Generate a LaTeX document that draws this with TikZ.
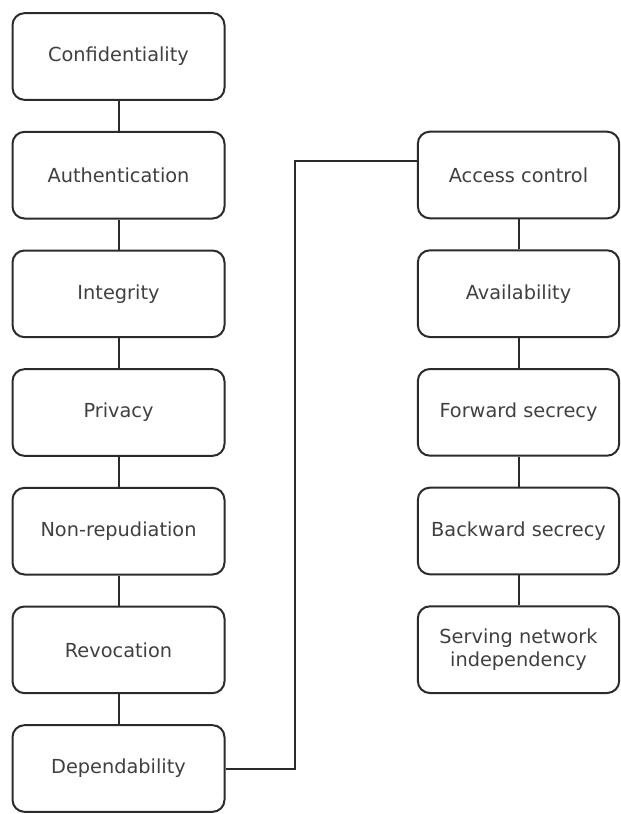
\documentclass[tikz,border=0pt]{standalone}
\usepackage{fontspec}
\setsansfont{DejaVu Sans}
\usetikzlibrary{positioning}

\definecolor{boxline}{HTML}{2B2B2B}
\definecolor{boxtext}{HTML}{404040}

\tikzset{
  reqbox/.style={draw=boxline, line width=1.5pt, rounded corners=9pt,
    minimum width=#1, minimum height=65pt, inner sep=0pt, align=center,
    text=boxtext, font=\sffamily\fontsize{14.5}{17}\selectfont},
  reqbox/.default=159pt,
  link/.style={draw=boxline, line width=1.5pt}
}

\begin{document}
\begin{tikzpicture}[x=0.75pt,y=-0.75pt]
    % picture frame
      \useasboundingbox (0,0) rectangle (621,814);

    % gap between the boxes of a column
      \def\colgap{22.5pt}

    % Draw the left column
      \node[reqbox] (conf) at (118.5,56.5) {Confidentiality};
      \node[reqbox, below=\colgap of conf] (auth) {Authentication};
      \node[reqbox, below=\colgap of auth] (integ) {Integrity};
      \node[reqbox, below=\colgap of integ] (priv) {Privacy};
      \node[reqbox, below=\colgap of priv] (nonrep) {Non-repudiation};
      \node[reqbox, below=\colgap of nonrep] (revoc) {Revocation};
      \node[reqbox, below=\colgap of revoc] (depend) {Dependability};

    % Draw the right column
      \node[reqbox=151pt] (access) at (518.5,175) {Access control};
      \node[reqbox=151pt, below=\colgap of access] (avail) {Availability};
      \node[reqbox=151pt, below=\colgap of avail] (fwd) {Forward secrecy};
      \node[reqbox=151pt, below=\colgap of fwd] (bwd) {Backward secrecy};
      \node[reqbox=151pt, below=\colgap of bwd] (serving) {Serving network\\independency};

    % Draw the links inside each column
      \foreach \a/\b in {conf/auth, auth/integ, integ/priv, priv/nonrep, nonrep/revoc, revoc/depend,
                         access/avail, avail/fwd, fwd/bwd, bwd/serving}
        \draw[link] (\a.south) -- (\b.north);

    % Draw the link between the columns
      \coordinate (accessin) at ([yshift=10.5pt]access.west);
      \draw[link] (depend.east) -- ++(69,0) |- (accessin);

\end{tikzpicture}
\end{document}
